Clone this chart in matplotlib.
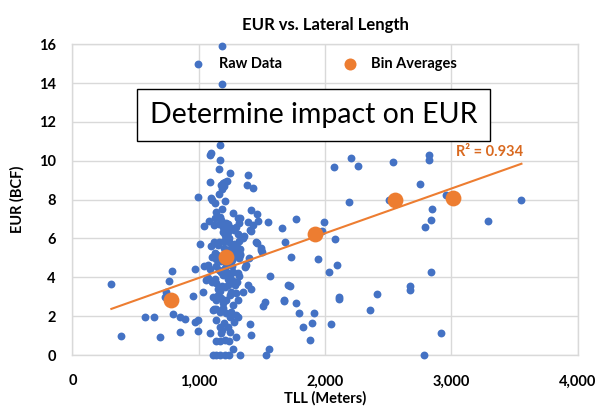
import numpy as np
import matplotlib.pyplot as plt

plt.rcParams['font.family'] = ['Lato', 'DejaVu Sans']

# ---------------------------------------------------------------------------
# Data
# ---------------------------------------------------------------------------
raw_tll = [
    # left, sparse
    308, 382, 572, 645, 696, 733, 743, 762, 788, 796, 851, 854, 893, 951, 967,
    967, 994, 994, 994, 1012, 1033, 1041, 1039, 1073,
    # upper part of the main cluster
    1183, 1183, 1165, 1086, 1095, 1168, 1160, 1250, 1389, 1092, 1175, 1190,
    1205, 1222, 1200, 1384, 1432, 1099, 1160, 1187, 1104, 1131, 1207, 1133,
    1186, 1270, 1310, 1329, 1410, 1458, 1471, 1547, 1084, 1128, 1165, 1179,
    1118, 1191, 1231, 1250, 1292, 1389, 1408, 1428, 1416, 1191, 1231, 1212,
    1360, 1350, 1455, 1495, 1495, 1502, 1460,
    # middle of the cluster
    1119, 1160, 1199, 1236, 1276, 1316, 1099, 1152, 1199, 1250, 1283, 1323,
    1323, 1107, 1126, 1118, 1145, 1283, 1323, 1317, 1396, 1374, 1369, 1160,
    1218, 1252, 1318, 1199, 1276, 1310, 1236, 1172, 1262, 1140, 1300, 1210,
    # 3.5 - 4.5
    1160, 1179, 1191, 1205, 1231, 1244, 1270, 1270, 1310, 1318, 1302, 1060,
    1073, 1107, 1126, 1139, 1561, 1705, 1350, 1389, 1416, 1085, 1140, 1215,
    1260, 1182, 1235, 1290,
    # 2.5 - 3.5
    1112, 1139, 1152, 1179, 1191, 1218, 1244, 1258, 1310, 1297, 1671, 1521,
    1508, 1165, 1205, 1230, 1270, 1150,
    # 1.5 - 2.5
    1112, 1133, 1165, 1191, 1218, 1244, 1258, 1297, 1310, 1133, 1171, 1231,
    1402, 1119, 1200, 1275,
    # 0 - 1.5
    1092, 1186, 1179, 1244, 1416, 1297, 1139, 1171, 1205, 1239, 1270, 1555,
    1529, 1323, 1112, 1139, 1171, 1205, 1239,
    # right, sparse
    2067, 2207, 2257, 2539, 2821, 2821, 2752, 2958, 2191, 2507, 2845, 2837,
    2793, 3290, 3554, 1769, 1658, 1993, 1974, 1679, 2077, 1729, 1943, 2098,
    2027, 2837, 1721, 1671, 1769, 1796, 1909, 2109, 2109, 1827, 1896, 2043,
    1877, 2413, 2357, 2671, 2671, 2919, 2779,
]
raw_eur = [
    3.67, 0.98, 1.94, 1.94, 0.93, 3.00, 3.26, 3.82, 4.32, 2.10, 1.94, 1.20,
    1.87, 3.03, 4.42, 1.71, 1.80, 1.25, 8.15, 5.71, 3.25, 6.63, 4.59, 4.63,
    15.89, 13.97, 10.80, 10.30, 10.40, 10.06, 9.55, 9.36, 9.27, 8.88, 8.75,
    8.85, 8.90, 8.95, 8.70, 8.74, 8.62, 8.06, 8.28, 8.52, 7.97, 7.83, 7.92,
    7.34, 7.54, 7.32, 7.06, 7.03, 7.49, 7.28, 6.90, 6.84, 6.90, 7.03, 7.11,
    6.94, 6.68, 6.60, 6.74, 6.51, 6.60, 6.85, 6.46, 6.68, 6.36, 6.34, 6.34,
    6.12, 6.12, 6.00, 5.83, 5.40, 5.49, 5.31, 5.74,
    5.80, 5.80, 5.87, 5.83, 5.70, 5.87, 5.60, 5.66, 5.50, 5.45, 5.30, 5.45,
    5.14, 5.02, 5.23, 5.10, 5.15, 5.14, 5.19, 4.97, 4.97, 4.63, 4.51, 6.74,
    6.77, 6.56, 6.77, 6.51, 6.43, 6.25, 6.00, 4.85, 4.90, 4.95, 5.55, 6.20,
    4.37, 4.28, 4.11, 4.46, 4.23, 4.03, 3.82, 4.28, 4.20, 4.06, 3.77, 3.86,
    3.94, 3.77, 3.89, 3.69, 4.06, 3.60, 3.25, 3.60, 3.38, 4.45, 4.60, 4.75,
    4.60, 3.55, 3.90, 3.60,
    3.00, 2.83, 3.08, 2.91, 2.66, 2.83, 3.08, 3.25, 2.83, 3.17, 2.83, 2.74,
    2.52, 3.30, 3.50, 3.60, 2.60, 3.40,
    2.31, 2.35, 2.23, 2.40, 2.14, 1.97, 2.23, 2.06, 1.97, 1.80, 1.46, 1.42,
    1.59, 2.35, 1.65, 1.70,
    1.12, 1.29, 1.12, 1.20, 1.03, 0.91, 0.74, 0.74, 0.77, 0.74, 0.29, 0.29,
    0.00, 0.00, 0.00, 0.00, 0.00, 0.00, 0.00,
    9.70, 10.13, 9.75, 9.96, 10.30, 10.06, 8.78, 8.26, 7.87, 7.97, 7.54, 6.96,
    6.58, 6.91, 7.97, 7.01, 6.53, 6.85, 6.39, 5.83, 5.98, 5.07, 4.92, 4.64,
    4.25, 4.27, 3.56, 2.79, 2.66, 2.16, 2.16, 3.00, 2.86, 1.46, 1.63, 1.58,
    0.77, 3.14, 2.31, 3.56, 3.34, 1.15, 0.00,
]

bin_tll = [780, 1218, 1918, 2555, 3016]
bin_eur = [2.81, 5.07, 6.24, 7.97, 8.07]

r2_text = "R² = 0.934"
blue = "#4472C4"
orange = "#ED7D31"
grid_c = "#D9D9D9"

# ---------------------------------------------------------------------------
# Figure
# ---------------------------------------------------------------------------
fig = plt.figure(figsize=(6.14, 4.09), dpi=100)
ax = fig.add_axes([0.118, 0.132, 0.823, 0.760])

ax.scatter(raw_tll, raw_eur, s=32, color=blue, zorder=3, clip_on=False,
           linewidths=0, label="Raw Data")

# linear trendline through the bin averages
coef = np.polyfit(bin_tll, bin_eur, 1)
xl = np.array([min(raw_tll), max(raw_tll)])
ax.plot(xl, np.polyval(coef, xl), color=orange, linewidth=1.5, zorder=4)

ax.scatter(bin_tll, bin_eur, s=130, color=orange, zorder=5, linewidths=0,
           label="Bin Averages")

ax.set_xlim(0, 4000)
ax.set_ylim(0, 16)
ax.set_xticks(np.arange(0, 4001, 1000))
ax.set_yticks(np.arange(0, 17, 2))
ax.set_xticklabels([f"{v:,}" for v in range(0, 4001, 1000)])
ax.tick_params(length=0, labelsize=10.5, pad=14)
ax.tick_params(axis="y", pad=12)
for lab in ax.get_xticklabels() + ax.get_yticklabels():
    lab.set_fontweight("bold")

ax.grid(True, color=grid_c, linewidth=1)
ax.set_axisbelow(True)
for sp in ax.spines.values():
    sp.set_color(grid_c)
    sp.set_linewidth(1)

ax.set_title("EUR vs. Lateral Length", fontsize=12, fontweight="bold", pad=10)
ax.set_xlabel("TLL (Meters)", fontsize=10.5, fontweight="bold", labelpad=2)
ax.set_ylabel("EUR (BCF)", fontsize=10.5, fontweight="bold", labelpad=10)

leg = ax.legend(ncol=2, loc="center", bbox_to_anchor=(0.49, 0.936),
                frameon=False, prop={"weight": "bold", "size": 10.5},
                handletextpad=0.4, columnspacing=3.7, borderaxespad=0)
leg.legend_handles[0].set_sizes([32])
leg.legend_handles[1].set_sizes([75])

ax.text(3300, 10.45, r2_text, color="#D9691F", fontsize=10.5,
        fontweight="bold", ha="center", va="center", zorder=6)

ax.text(0.477, 0.772, "Determine impact on EUR", transform=ax.transAxes,
        fontsize=20.5, ha="center", va="center", zorder=10,
        bbox=dict(boxstyle="square,pad=0.45", facecolor="white",
                  edgecolor="black", linewidth=1))

fig.savefig("out.png", dpi=100)
